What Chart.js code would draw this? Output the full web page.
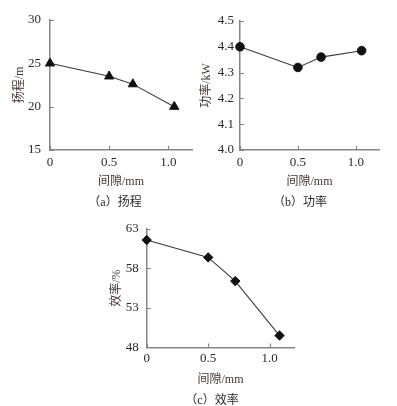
<!DOCTYPE html>
<html>
<head>
<meta charset="utf-8">
<script src="https://cdn.jsdelivr.net/npm/chart.js@4/dist/chart.umd.min.js"></script>
<style>
  html, body { margin: 0; padding: 0; background: #fff; }
  body { width: 397px; height: 406px; position: relative; overflow: hidden; }
  .box { position: absolute; }
  .cap { position: absolute; text-align: center; font: 12px 'Liberation Serif', 'Noto Sans CJK SC', serif; color: #2a2a2a; white-space: nowrap; }
</style>
</head>
<body>
<div class="box" style="left:0;top:0;width:200px;height:195px"><canvas id="cA" width="200" height="195"></canvas></div>
<div class="box" style="left:197px;top:0;width:200px;height:195px"><canvas id="cB" width="200" height="195"></canvas></div>
<div class="box" style="left:100px;top:210px;width:200px;height:183px"><canvas id="cC" width="200" height="183"></canvas></div>
<div class="cap" style="left:60px;top:192px;width:110px">（a）扬程</div>
<div class="cap" style="left:245px;top:192px;width:110px">（b）功率</div>
<div class="cap" style="left:157px;top:390px;width:110px">（c）效率</div>
<script>
// gap (mm)
const gapA = [0, 0.5, 0.7, 1.05];
const gapB = [0, 0.5, 0.7, 1.05];
const gapC = [0, 0.5, 0.72, 1.08];

const head = [25, 23.5, 22.6, 20];          // 扬程 m
const power = [4.40, 4.32, 4.36, 4.385];    // 功率 kW
const eff = [61.6, 59.4, 56.4, 49.5];       // 效率 %

const xTicks = [0, 0.5, 1.0];
const headTicks = [15, 20, 25, 30];
const powerTicks = [4.0, 4.1, 4.2, 4.3, 4.4, 4.5];
const effTicks = [48, 53, 58, 63];

const FONT = "'Liberation Serif', 'Noto Sans CJK SC', serif";
const AXIS = '#858585';
const INK = '#2a2a2a';
const TITLE_INK = '#45362f';

// short tick marks pointing into the plot
const innerTicks = {
  id: 'innerTicks',
  beforeDatasetsDraw(chart) {
    const { ctx, chartArea, scales } = chart;
    ctx.save();
    ctx.strokeStyle = AXIS;
    ctx.lineWidth = 1.2;
    ctx.beginPath();
    scales.x.ticks.forEach(t => {
      const px = Math.round(scales.x.getPixelForValue(t.value)) + 0.5;
      ctx.moveTo(px, chartArea.bottom);
      ctx.lineTo(px, chartArea.bottom - 4);
    });
    scales.y.ticks.forEach(t => {
      const py = Math.round(scales.y.getPixelForValue(t.value)) + 0.5;
      ctx.moveTo(chartArea.left, py);
      ctx.lineTo(chartArea.left + 4, py);
    });
    ctx.stroke();
    ctx.restore();
  }
};

function makeChart(id, xs, ys, opt) {
  new Chart(document.getElementById(id), {
    type: 'line',
    data: {
      datasets: [{
        data: xs.map((x, i) => ({ x: x, y: ys[i] })),
        borderColor: '#3a3a3a',
        borderWidth: 1.1,
        pointStyle: opt.marker,
        pointRadius: opt.radius,
        pointBorderWidth: 1,
        pointBackgroundColor: '#111',
        pointBorderColor: '#111',
        tension: 0,
        clip: false
      }]
    },
    options: {
      responsive: false,
      animation: false,
      events: [],
      layout: { padding: opt.pad },
      plugins: { legend: { display: false }, tooltip: { enabled: false } },
      scales: {
        x: {
          type: 'linear',
          min: 0, max: 1.2,
          afterBuildTicks: s => { s.ticks = xTicks.map(v => ({ value: v })); },
          afterFit: s => { s.height = opt.xh; },
          grid: { drawOnChartArea: false, drawTicks: false },
          border: { color: AXIS, width: 1.5 },
          ticks: {
            padding: opt.xpad, color: INK, font: { family: FONT, size: 13 },
            callback: v => v === 0 ? '0' : v.toFixed(1)
          },
          title: {
            display: true, text: '间隙/mm', color: TITLE_INK,
            font: { family: FONT, size: 12 }, padding: { top: 0, bottom: opt.xtb }
          }
        },
        y: {
          min: opt.ymin, max: opt.ymax,
          afterBuildTicks: s => { s.ticks = opt.yticks.map(v => ({ value: v })); },
          afterFit: s => { s.width = opt.yw; },
          grid: { drawOnChartArea: false, drawTicks: false },
          border: { color: AXIS, width: 1.5 },
          ticks: {
            padding: opt.ypad, color: INK, font: { family: FONT, size: 13 },
            callback: opt.yfmt
          },
          title: {
            display: true, text: opt.ytitle, color: TITLE_INK,
            font: { family: FONT, size: 12 }, padding: { top: opt.ytp, bottom: 0 }
          }
        }
      }
    },
    plugins: [innerTicks]
  });
}

makeChart('cA', gapA, head, {
  marker: 'triangle', radius: 5.3,
  pad: { top: 20, right: 8, left: 0, bottom: 0 },
  xh: 45, xpad: 5, xtb: 6,
  yw: 50, ypad: 9, ytp: 13,
  ymin: 15, ymax: 30, yticks: headTicks, ytitle: '扬程/m',
  yfmt: v => String(v)
});

makeChart('cB', gapB, power, {
  marker: 'circle', radius: 4.3,
  pad: { top: 21, right: 18, left: 0, bottom: 0 },
  xh: 45, xpad: 5, xtb: 6,
  yw: 43, ypad: 6, ytp: 3,
  ymin: 4.0, ymax: 4.5, yticks: powerTicks, ytitle: '功率/kW',
  yfmt: v => v.toFixed(1)
});

makeChart('cC', gapC, eff, {
  marker: 'rectRot', radius: 4.7,
  pad: { top: 19, right: 3, left: 0, bottom: 0 },
  xh: 45.6, xpad: 3, xtb: 6,
  yw: 46.7, ypad: 8, ytp: 10,
  ymin: 48, ymax: 63, yticks: effTicks, ytitle: '效率/%',
  yfmt: v => String(v)
});
</script>
</body>
</html>
